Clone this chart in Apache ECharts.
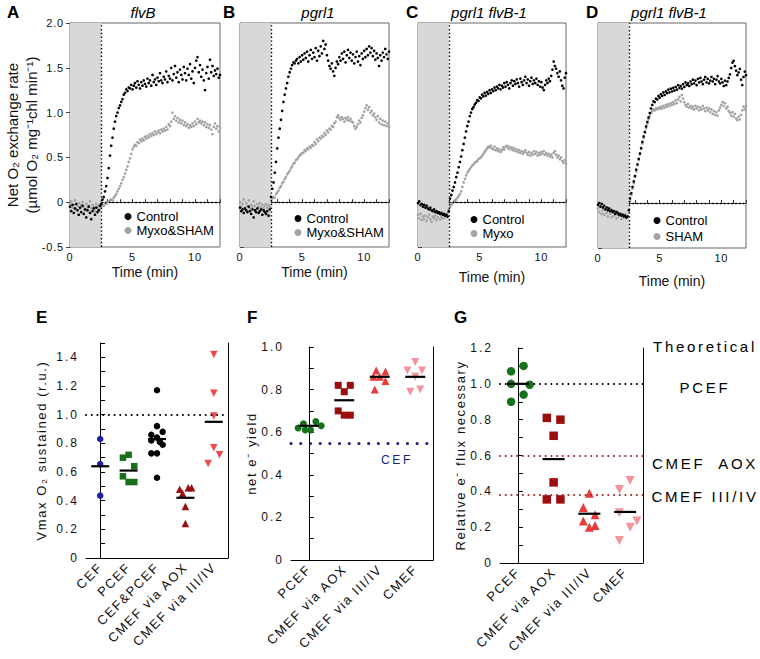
<!DOCTYPE html>
<html><head><meta charset="utf-8">
<script src="https://cdn.jsdelivr.net/npm/echarts@6/dist/echarts.min.js"></script>
<style>
html,body{margin:0;padding:0;background:#fff}
#c{width:760px;height:659px}
#c text{white-space:pre}
#c text[style*="spA"]{letter-spacing:0.8px}
#c text[style*="spB"]{letter-spacing:1.6px}
#c text[style*="spC"]{letter-spacing:2.7px}
#c text[style*="spD"]{letter-spacing:2px}
</style></head><body><div id="c"></div>
<script>
// ---------- time courses (Net O2 exchange rate), sampled every tStep min from 0 to 12 ----------
const tStep = 0.1;
const flvBControl = [
-0.05,-0.10,-0.03,-0.12,-0.07,-0.02,-0.09,-0.14,-0.06,-0.11,-0.04,-0.13,-0.08,-0.17,-0.09,-0.05,-0.12,-0.19,-0.10,-0.07,-0.14,-0.06,-0.11,-0.09,-0.04,
-0.02,0.03,0.06,0.12,0.18,0.27,0.38,0.52,0.63,0.72,0.82,0.90,0.96,1.00,1.05,1.08,1.12,1.15,1.20,1.22,1.26,1.24,1.28,1.27,1.31,1.26,
1.30,1.33,1.28,1.35,1.31,1.27,1.34,1.30,1.36,1.32,1.29,1.38,1.33,1.36,1.30,1.42,1.34,1.37,1.31,1.39,
1.35,1.44,1.36,1.33,1.40,1.37,1.46,1.34,1.41,1.38,1.50,1.36,1.43,1.52,1.39,1.45,1.34,1.48,1.42,1.37,
1.51,1.44,1.36,1.49,1.42,1.54,1.38,1.46,1.33,1.50,1.58,1.62,1.45,1.53,1.40,1.48,1.36,1.25,1.44,1.51,
1.38,1.59,1.45,1.52,1.41,1.47,1.43,1.49,1.39,1.42];
const flvBMyxoSham = [
-0.02,0.01,-0.06,-0.03,0.02,-0.08,-0.04,-0.01,-0.07,-0.03,0.00,-0.05,-0.09,-0.02,-0.06,-0.04,0.01,-0.07,-0.03,-0.05,-0.10,-0.02,-0.06,-0.04,-0.08,
-0.05,-0.03,-0.04,-0.01,-0.02,0.00,0.01,0.02,0.03,0.02,0.05,0.07,0.09,0.12,0.15,0.18,0.21,0.25,0.28,0.32,0.36,0.40,0.45,0.49,0.54,0.59,
0.62,0.64,0.63,0.67,0.66,0.70,0.68,0.71,0.69,0.73,0.71,0.74,0.72,0.76,0.74,0.77,0.75,0.79,0.76,0.78,
0.80,0.77,0.81,0.79,0.82,0.80,0.84,0.81,0.87,0.85,0.90,1.00,0.93,0.96,0.91,0.94,0.89,0.92,0.88,0.91,
0.86,0.89,0.85,0.87,0.83,0.86,0.84,0.88,0.85,0.90,0.87,0.93,0.89,0.91,0.88,0.90,0.86,0.89,0.84,0.87,
0.83,0.86,0.81,0.76,0.84,0.88,0.82,0.85,0.79,0.83];
const pgrl1Control = [
-0.06,-0.10,-0.08,-0.12,-0.07,-0.09,-0.11,-0.05,-0.10,-0.13,-0.08,-0.17,-0.09,-0.11,-0.07,-0.12,-0.10,-0.08,-0.14,-0.09,-0.11,-0.13,-0.10,-0.15,-0.08,
0.06,0.15,0.22,0.33,0.45,0.60,0.72,0.82,0.92,1.02,1.12,1.20,1.27,1.33,1.40,1.45,1.49,1.53,1.56,1.55,1.58,1.60,1.55,1.62,1.57,1.64,
1.59,1.66,1.61,1.68,1.57,1.64,1.70,1.60,1.67,1.62,1.72,1.58,1.69,1.63,1.74,1.66,1.80,1.71,1.76,1.64,
1.58,1.52,1.49,1.55,1.46,1.41,1.50,1.57,1.54,1.62,1.58,1.66,1.60,1.68,1.56,1.64,1.70,1.61,1.67,1.58,
1.65,1.55,1.62,1.68,1.57,1.63,1.53,1.66,1.60,1.69,1.62,1.71,1.64,1.74,1.67,1.72,1.63,1.69,1.59,1.66,
1.61,1.52,1.64,1.58,1.67,1.62,1.71,1.65,1.60,1.68];
const pgrl1MyxoSham = [
0.00,-0.05,-0.02,0.03,-0.06,-0.01,-0.04,0.02,-0.07,-0.03,-0.05,0.01,-0.04,-0.08,-0.02,-0.05,-0.01,-0.06,-0.03,-0.07,-0.04,-0.02,-0.06,-0.03,-0.05,
0.02,0.04,0.06,0.05,0.09,0.11,0.13,0.16,0.18,0.21,0.23,0.26,0.28,0.31,0.33,0.35,0.38,0.40,0.43,0.44,0.47,0.48,0.50,0.52,0.53,0.55,
0.55,0.58,0.57,0.60,0.59,0.62,0.61,0.64,0.63,0.67,0.65,0.70,0.68,0.72,0.71,0.74,0.73,0.77,0.75,0.80,
0.78,0.82,0.81,0.85,0.84,0.88,0.90,0.95,0.97,0.94,0.92,0.95,0.93,0.90,0.94,0.92,0.95,0.91,0.93,0.90,
0.89,0.85,0.82,0.84,0.87,0.91,0.89,0.94,0.97,1.01,1.05,1.08,1.03,1.06,1.00,1.02,0.97,0.99,0.95,0.92,
0.96,0.89,0.93,0.87,0.91,0.86,0.90,0.85,0.88,0.84];
const dblControlC = [
-0.01,0.01,-0.03,-0.02,-0.05,-0.03,-0.06,-0.04,-0.07,-0.08,-0.06,-0.09,-0.10,-0.08,-0.11,-0.10,-0.12,-0.11,-0.13,-0.12,-0.14,-0.13,-0.15,-0.14,-0.16,
-0.10,0.04,0.08,0.13,0.17,0.22,0.28,0.33,0.39,0.45,0.51,0.58,0.65,0.72,0.79,0.85,0.90,0.96,1.00,1.04,1.06,1.09,1.11,1.14,1.13,1.17,
1.16,1.20,1.18,1.22,1.19,1.23,1.21,1.25,1.22,1.26,1.24,1.28,1.25,1.29,1.27,1.31,1.26,1.30,1.28,1.33,
1.29,1.34,1.31,1.27,1.33,1.36,1.30,1.35,1.32,1.37,1.33,1.29,1.38,1.34,1.31,1.36,1.40,1.33,1.37,1.30,
1.35,1.39,1.32,1.36,1.33,1.38,1.31,1.35,1.29,1.34,1.28,1.25,1.31,1.36,1.33,1.38,1.35,1.41,1.48,1.57,
1.52,1.49,1.44,1.40,1.46,1.36,1.30,1.27,1.39,1.44];
const dblMyxo = [
-0.14,-0.18,-0.13,-0.20,-0.16,-0.19,-0.15,-0.21,-0.17,-0.14,-0.19,-0.22,-0.16,-0.18,-0.15,-0.20,-0.17,-0.13,-0.19,-0.16,-0.18,-0.14,-0.17,-0.15,-0.12,
-0.08,-0.05,-0.03,-0.01,0.01,0.02,0.03,0.05,0.07,0.09,0.12,0.17,0.22,0.26,0.30,0.33,0.35,0.37,0.39,0.41,0.42,0.44,0.45,0.46,0.48,0.49,
0.50,0.52,0.54,0.56,0.58,0.60,0.62,0.61,0.63,0.60,0.59,0.62,0.58,0.60,0.57,0.59,0.56,0.58,0.61,0.59,
0.62,0.63,0.60,0.62,0.59,0.61,0.58,0.60,0.57,0.59,0.56,0.58,0.55,0.57,0.54,0.56,0.58,0.55,0.53,0.56,
0.52,0.55,0.53,0.57,0.54,0.56,0.52,0.55,0.53,0.56,0.54,0.57,0.53,0.55,0.52,0.54,0.51,0.53,0.50,0.55,
0.57,0.53,0.50,0.52,0.48,0.50,0.46,0.44,0.47,0.43];
const dblControlD = [
-0.02,0.00,-0.04,-0.01,-0.05,-0.03,-0.07,-0.05,-0.08,-0.06,-0.09,-0.08,-0.10,-0.09,-0.12,-0.10,-0.11,-0.13,-0.12,-0.14,-0.13,-0.15,-0.14,-0.16,-0.15,
-0.08,0.05,0.11,0.18,0.24,0.30,0.37,0.43,0.49,0.55,0.61,0.68,0.74,0.79,0.85,0.90,0.95,1.00,1.05,1.09,1.13,1.12,1.16,1.15,1.19,1.17,
1.21,1.19,1.23,1.20,1.24,1.22,1.26,1.23,1.27,1.24,1.28,1.25,1.29,1.26,1.31,1.28,1.30,1.27,1.32,1.29,
1.34,1.31,1.33,1.30,1.35,1.32,1.37,1.33,1.36,1.31,1.38,1.34,1.39,1.35,1.32,1.37,1.40,1.34,1.38,1.33,
1.36,1.40,1.35,1.38,1.32,1.37,1.41,1.35,1.33,1.38,1.34,1.30,1.36,1.31,1.35,1.39,1.43,1.50,1.56,1.58,
1.52,1.47,1.42,1.45,1.49,1.37,1.31,1.40,1.46,1.42];
const dblSham = [
-0.06,-0.10,-0.04,-0.12,-0.08,-0.13,-0.07,-0.11,-0.15,-0.09,-0.12,-0.16,-0.10,-0.14,-0.11,-0.17,-0.13,-0.15,-0.12,-0.18,-0.14,-0.16,-0.13,-0.17,-0.15,
-0.10,0.02,0.09,0.16,0.22,0.29,0.35,0.42,0.48,0.54,0.60,0.66,0.72,0.78,0.83,0.88,0.93,0.97,1.00,1.02,1.04,1.03,1.05,1.04,1.06,1.05,
1.07,1.05,1.08,1.06,1.09,1.07,1.10,1.08,1.11,1.09,1.12,1.10,1.14,1.11,1.15,1.18,1.13,1.20,1.16,1.12,
1.09,1.07,1.10,1.06,1.08,1.05,1.07,1.04,1.08,1.05,1.07,1.03,1.06,1.04,1.08,1.05,1.02,1.06,1.03,1.05,
1.01,1.04,0.99,1.02,0.98,1.01,0.97,1.03,1.06,1.09,1.12,1.08,1.11,1.05,1.07,1.02,1.00,0.97,1.01,0.96,
0.99,0.94,0.92,0.96,0.93,0.98,1.03,1.07,1.04,1.08];
const lightOffTime = 2.5;
const topTitles = ['flvB', 'pgrl1', 'pgrl1 flvB-1', 'pgrl1 flvB-1'];
const topTreatNames = ['Myxo&SHAM', 'Myxo&SHAM', 'Myxo', 'SHAM'];
const timeTicks = [0, 5, 10];

// ---------- E: Vmax O2 sustained (r.u.) ----------
const eCats = ['CEF', 'PCEF', 'CEF&PCEF', 'CMEF via AOX', 'CMEF via III/IV'];
const eCEF = [0.83, 0.655, 0.435];           const eCEFjit = [0, 0, 0];
const ePCEF = [0.70, 0.72, 0.64, 0.57, 0.53, 0.53]; const ePCEFjit = [-0.2, 0, 0.2, -0.2, 0, 0.2];
const eBoth = [1.17, 0.92, 0.88, 0.86, 0.84, 0.82, 0.81, 0.79, 0.73, 0.73, 0.56];
const eBothJit = [0, 0, 0.2, -0.2, 0, -0.2, 0.1, 0.2, -0.2, 0, 0];
const eAOX = [0.48, 0.49, 0.49, 0.45, 0.36, 0.24]; const eAOXjit = [-0.2, 0.1, 0.22, -0.1, 0, 0];
const eIII = [1.42, 1.15, 0.99, 0.77, 0.72, 0.66]; const eIIIjit = [0, 0, 0, 0, 0.2, -0.2];
const eMeans = [0.64, 0.61, 0.83, 0.42, 0.95];
const eRef = 1.0;

// ---------- F: net e- yield ----------
const fCats = ['PCEF', 'CMEF via AOX', 'CMEF via III/IV', 'CMEF'];
const fPCEF = [0.65, 0.64, 0.63, 0.62, 0.61, 0.61]; const fPCEFjit = [0.2, -0.15, 0.35, -0.3, 0.05, -0.1];
const fAOX = [0.82, 0.82, 0.79, 0.70, 0.68, 0.68];  const fAOXjit = [-0.17, 0.17, 0, -0.17, 0, 0.17];
const fIII = [0.89, 0.885, 0.86, 0.84, 0.86, 0.80]; const fIIIjit = [-0.1, 0.16, 0, 0.16, -0.18, -0.14];
const fCMEF = [0.93, 0.89, 0.89, 0.86, 0.79, 0.80]; const fCMEFjit = [0, -0.22, 0.19, 0, -0.14, 0.14];
const fMeans = [0.63, 0.75, 0.86, 0.86];
const fCEFLevel = 0.545;

// ---------- G: Relative e- flux necessary ----------
const gCats = ['PCEF', 'CMEF via AOX', 'CMEF via III/IV', 'CMEF'];
const gPCEF = [1.07, 1.10, 1.00, 0.995, 0.94, 0.90]; const gPCEFjit = [-0.19, 0.16, -0.19, 0.33, 0.16, -0.19];
const gAOX = [0.81, 0.80, 0.71, 0.45, 0.355, 0.355]; const gAOXjit = [-0.19, 0.19, 0, 0, -0.19, 0.19];
const gIII = [0.39, 0.31, 0.27, 0.235, 0.20, 0.21];  const gIIIjit = [0, -0.17, 0.16, -0.17, 0, 0.16];
const gCMEF = [0.41, 0.46, 0.28, 0.235, 0.20, 0.125]; const gCMEFjit = [-0.16, 0.14, -0.16, 0.33, 0.14, -0.16];
const gMeans = [1.00, 0.58, 0.275, 0.285];
const gTheory = [1.0, 0.6, 0.375];
const gTheoryNames = ['PCEF', 'CMEF  AOX', 'CMEF III/IV'];

// ================= build =================
const FF = 'Liberation Sans';
const toPoints = arr => arr.map((v, i) => [Math.round(i * tStep * 100) / 100, v]);
const jitPoints = (vals, jit, idx) => vals.map((v, k) => [idx + jit[k], v]);

const grids = [], xAxes = [], yAxes = [], series = [], graphics = [];

// top panels
const topGeom = [
  {left: 70, top: 23, width: 150, height: 224, nameGap: 18},
  {left: 240, top: 23, width: 149, height: 224, nameGap: 18},
  {left: 418, top: 23, width: 148, height: 224, nameGap: 23},
  {left: 598, top: 23, width: 148, height: 225, nameGap: 26}
];
const topCtrl = [flvBControl, pgrl1Control, dblControlC, dblControlD];
const topTrt = [flvBMyxoSham, pgrl1MyxoSham, dblMyxo, dblSham];
topGeom.forEach((g, i) => {
  grids.push({left: g.left, top: g.top, width: g.width, height: g.height, show: true,
    borderColor: '#666', borderWidth: 1, backgroundColor: 'transparent'});
  xAxes.push({type: 'value', gridIndex: i, min: 0, max: 12, interval: 1,
    axisLine: {lineStyle: {color: '#333'}},
    axisTick: {inside: true, length: 3, lineStyle: {color: '#333'}},
    splitLine: {show: false},
    axisLabel: {margin: 4, fontSize: 11, color: '#111', fontWeight: 'normal', fontFamily: FF + ', spA',
      formatter: v => timeTicks.includes(v) ? String(v) : ''},
    name: 'Time (min)', nameLocation: 'middle', nameGap: g.nameGap,
    nameTextStyle: {fontSize: 14, fontWeight: 'normal', fontFamily: FF, color: '#111'}
  });
  yAxes.push({type: 'value', gridIndex: i, min: -0.5, max: 2, interval: 0.5,
    axisLine: {lineStyle: {color: '#555'}},
    axisTick: {inside: i > 0, length: 4, lineStyle: {color: '#444'}},
    splitLine: {show: false},
    axisLabel: {show: i === 0, margin: 6, fontSize: 11, color: '#111', fontWeight: 'normal', fontFamily: FF + ', spA',
      formatter: v => v === 0 ? '0' : v.toFixed(1)},
    name: i === 0 ? 'Net O\u2082 exchange rate\n(\u00b5mol O\u2082 mg\u207b\u00b9chl min\u207b\u00b9)' : '',
    nameLocation: 'middle', nameGap: 27,
    nameTextStyle: {fontSize: 15, lineHeight: 19, fontWeight: 'normal', fontFamily: FF, color: '#111'}
  });
  series.push({type: 'scatter', name: '_bg' + i, xAxisIndex: i, yAxisIndex: i, data: [], z: 1, silent: true,
    markArea: {silent: true, itemStyle: {color: '#d8d8d8', opacity: 1}, data: [[{xAxis: 0}, {xAxis: lightOffTime}]]},
    markLine: {silent: true, symbol: 'none', label: {show: false},
      lineStyle: {color: '#000', type: [1.4, 2.4], width: 1.4, opacity: 1},
      data: [{xAxis: lightOffTime}, [{coord: [lightOffTime, 0]}, {coord: [12, 0]}]]}
  });
  series.push({type: 'scatter', name: topTreatNames[i], xAxisIndex: i, yAxisIndex: i, z: 2, silent: true,
    symbolSize: 2.7, itemStyle: {color: '#a3a3a3', opacity: 1}, data: toPoints(topTrt[i])});
  series.push({type: 'scatter', name: 'Control', xAxisIndex: i, yAxisIndex: i, z: 3, silent: true,
    symbolSize: 2.7, itemStyle: {color: '#000', opacity: 1}, data: toPoints(topCtrl[i])});
});
const legendPos = [[124.5, 210, 1], [294.5, 212, 1], [470.5, 213, 1], [653.5, 214, 3]];
const legends = legendPos.map((p, i) => ({
  left: p[0], top: p[1], orient: 'vertical', padding: 0, itemGap: p[2], selectedMode: false,
  icon: 'circle', itemWidth: 7, itemHeight: 7,
  itemStyle: {opacity: 1},
  textStyle: {fontSize: 13, lineHeight: 13, fontWeight: 'normal', fontFamily: FF, color: '#000'},
  data: ['Control', topTreatNames[i]]
}));

// bottom panels
const botPanels = [
  {geom: {left: 86, top: 343, width: 142, height: 215}, cats: eCats, max: 1.5, name: 'Vmax O\u2082 sustained (r.u.)', nameGap: 38,
   groups: [
     {v: eCEF, j: eCEFjit, sym: 'circle', size: 6.5, color: '#1f1fb0'},
     {v: ePCEF, j: ePCEFjit, sym: 'rect', size: 6.5, color: '#17701a'},
     {v: eBoth, j: eBothJit, sym: 'circle', size: 6.5, color: '#000'},
     {v: eAOX, j: eAOXjit, sym: 'triangle', size: 7.5, color: '#9c0d0d'},
     {v: eIII, j: eIIIjit, sym: 'triangle', rot: 180, size: 7.5, color: '#f04a4a'}],
   means: eMeans, meanW: 18,
   refs: [{y: eRef, color: '#000', width: 2, dash: [0.1, 5.6]}]},
  {geom: {left: 291, top: 347, width: 142, height: 213}, cats: fCats, max: 1.0, name: 'net e\u207b yield', nameGap: 33,
   groups: [
     {v: fPCEF, j: fPCEFjit, sym: 'circle', size: 7, color: '#17701a'},
     {v: fAOX, j: fAOXjit, sym: 'rect', size: 7, color: '#9c0d0d'},
     {v: fIII, j: fIIIjit, sym: 'triangle', size: 8, color: '#ea3a3a'},
     {v: fCMEF, j: fCMEFjit, sym: 'triangle', rot: 180, size: 8, color: '#f4939a'}],
   means: fMeans, meanW: 20,
   refs: [{y: fCEFLevel, color: '#1b1b7c', width: 3, dash: [0.1, 9.6]}]},
  {geom: {left: 500, top: 348, width: 143, height: 215}, cats: gCats, max: 1.2, name: 'Relative e\u207b flux necessary', nameGap: 33,
   groups: [
     {v: gPCEF, j: gPCEFjit, sym: 'circle', size: 8.5, color: '#17701a'},
     {v: gAOX, j: gAOXjit, sym: 'rect', size: 8.5, color: '#9c0d0d'},
     {v: gIII, j: gIIIjit, sym: 'triangle', size: 9, color: '#ea3a3a'},
     {v: gCMEF, j: gCMEFjit, sym: 'triangle', rot: 180, size: 9, color: '#f4939a'}],
   means: gMeans, meanW: 22,
   refs: [{y: gTheory[0], color: '#000', width: 2, dash: [0.1, 5.6]},
          {y: gTheory[1], color: '#a3262b', width: 2, dash: [0.1, 5.6]},
          {y: gTheory[2], color: '#a3262b', width: 2, dash: [0.1, 5.6]}]}
];
botPanels.forEach((p, k) => {
  const gi = grids.length;
  grids.push({left: p.geom.left, top: p.geom.top, width: p.geom.width, height: p.geom.height});
  xAxes.push({type: 'category', gridIndex: gi, data: p.cats, boundaryGap: true,
    axisLine: {lineStyle: {color: '#000', width: 1}},
    axisTick: {alignWithLabel: true, inside: true, length: 5, lineStyle: {color: '#000'}},
    axisLabel: {interval: 0, rotate: 45, margin: 7, fontSize: 13, color: '#111', fontWeight: 'normal', fontFamily: FF + ', spB'}});
  const xVal = xAxes.length;
  xAxes.push({type: 'value', gridIndex: gi, min: -0.5, max: p.cats.length - 0.5, show: false});
  const yL = yAxes.length;
  yAxes.push({type: 'value', gridIndex: gi, min: 0, max: p.max, interval: 0.2,
    axisLine: {show: true, lineStyle: {color: '#000'}},
    axisTick: {show: true, inside: true, length: 5, lineStyle: {color: '#000'}},
    minorTick: {show: true, splitNumber: 2, length: 5, lineStyle: {color: '#000'}},
    splitLine: {show: false},
    axisLabel: {margin: 7, fontSize: 12, color: '#111', fontWeight: 'normal', fontFamily: FF + ', spD',
      formatter: v => v > p.max - 0.05 && Math.abs(v * 5 - Math.round(v * 5)) > 1e-6 ? '' : (v === 0 ? '0' : v.toFixed(1))},
    name: p.name, nameLocation: 'middle', nameGap: p.nameGap,
    nameTextStyle: {fontSize: 13, fontWeight: 'normal', fontFamily: FF + ', spB', color: '#111'}});
  yAxes.push({type: 'value', gridIndex: gi, position: 'right', min: 0, max: p.max,
    axisLine: {show: true, lineStyle: {color: '#000'}}, axisTick: {show: false},
    axisLabel: {show: false}, splitLine: {show: false}});
  p.groups.forEach((g, ci) => {
    series.push({type: 'scatter', name: p.cats[ci] + '#' + k, xAxisIndex: xVal, yAxisIndex: yL, z: 3, silent: true,
      symbol: g.sym, symbolSize: g.size, symbolRotate: g.rot || 0, itemStyle: {color: g.color, opacity: 1},
      data: jitPoints(g.v, g.j, ci)});
  });
  series.push({type: 'scatter', name: 'mean#' + k, xAxisIndex: xVal, yAxisIndex: yL, z: 4, silent: true,
    symbol: 'rect', symbolSize: [p.meanW, 2.2], itemStyle: {color: '#000', opacity: 1},
    data: p.means.map((m, ci) => [ci, m]),
    markLine: {silent: true, symbol: 'none', label: {show: false},
      data: p.refs.map(r => ({yAxis: r.y, lineStyle: {color: r.color, width: r.width, type: r.dash, cap: 'round', opacity: 1}}))}
  });
});

// texts
const txt = (x, y, s, size, fam, opts) => {
  const o = opts || {};
  return {type: 'text', x: x, y: y, silent: true,
    style: {text: s, fontSize: size, fontFamily: fam, fontWeight: o.weight || 'normal', fontStyle: o.style || 'normal',
      fill: o.color || '#000', align: o.align || 'left', textAlign: o.align || 'left',
      verticalAlign: 'middle', textVerticalAlign: 'middle'}};
};
[['A', 7, 12], ['B', 223, 12], ['C', 406, 12], ['D', 586, 12], ['E', 36, 317], ['F', 247, 317], ['G', 454, 317]]
  .forEach(a => graphics.push(txt(a[1], a[2], a[0], 17, FF, {weight: 'bold'})));
[[143, 12], [318, 12], [489, 12], [669, 12]].forEach((p, i) =>
  graphics.push(txt(p[0], p[1], topTitles[i], 15, FF, {style: 'italic', align: 'center'})));
graphics.push(txt(397, 460, 'CEF', 12, FF + ', spC', {align: 'center', color: '#1b1b7c'}));
graphics.push(txt(705, 346, 'Theoretical', 15, FF + ', spC', {align: 'center'}));
graphics.push(txt(705, 387, gTheoryNames[0], 15, FF + ', spC', {align: 'center'}));
graphics.push(txt(705, 463, gTheoryNames[1], 15, FF + ', spC', {align: 'center'}));
graphics.push(txt(705, 496, gTheoryNames[2], 15, FF + ', spC', {align: 'center'}));

const chart = echarts.init(document.getElementById('c'), null, {renderer: 'svg', width: 760, height: 659});
chart.setOption({
  animation: false,
  backgroundColor: '#fff',
  textStyle: {fontFamily: FF, fontWeight: 'normal'},
  grid: grids, xAxis: xAxes, yAxis: yAxes, series: series,
  legend: legends, graphic: graphics
});
</script></body></html>
